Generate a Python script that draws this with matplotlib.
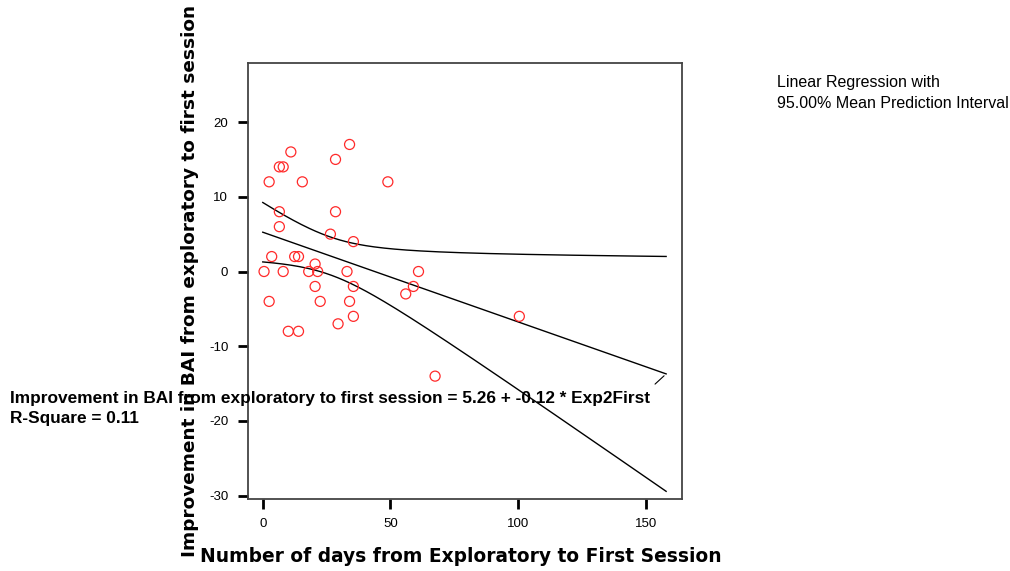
import numpy as np
import matplotlib
matplotlib.use("Agg")
import matplotlib.pyplot as plt
from matplotlib import font_manager
from matplotlib.ticker import FuncFormatter

# Days between exploratory and first session, and BAI improvement
days = [0.5, 2.5, 2.5, 3.5, 6.5, 8, 6.5, 6.5, 8, 10,
        11, 12.5, 14, 14, 15.5, 18, 20.5, 20.5, 21.5, 22.5,
        26.5, 28.5, 28.5, 29.5, 33, 34, 34, 35.5, 35.5, 35.5,
        49, 56, 59, 61, 67.5, 100.5]
improvement = [0, 12, -4, 2, 14, 14, 8, 6, 0, -8,
               16, 2, 2, -8, 12, 0, 1, -2, 0, -4,
               5, 15, 8, -7, 0, -4, 17, -2, 4, -6,
               12, -3, -2, 0, -14, -6]

intercept = 5.26
slope = -0.12
r_square = 0.11
fit_range = (0, 158)

x_ticks = [0, 50, 100, 150]
y_ticks = [-30, -20, -10, 0, 10, 20]

plt.rcParams["axes.unicode_minus"] = False

W, H = 1010, 571
fig = plt.figure(figsize=(W / 100, H / 100), dpi=100)
ax = fig.add_axes([247.7 / W, 1 - 498.7 / H, (681.7 - 247.7) / W, (498.7 - 63) / H])

def pick(names):
    have = {f.name for f in font_manager.fontManager.ttflist}
    return [n for n in names if n in have] or ["DejaVu Sans"]

plain = pick(["Liberation Sans"])

# Fitted line and 95% mean prediction interval
x = np.asarray(days, float)
y = np.asarray(improvement, float)
n = len(x)
resid = y - (intercept + slope * x)
s = np.sqrt(np.sum(resid ** 2) / (n - 2))
sxx = np.sum((x - x.mean()) ** 2)
t_crit = 2.032
xf = np.linspace(fit_range[0], fit_range[1], 200)
yf = intercept + slope * xf
hw = t_crit * s * np.sqrt(1 / n + (xf - x.mean()) ** 2 / sxx)

ax.plot(xf, yf, color="black", lw=1.0)
ax.plot(xf, yf + hw, color="black", lw=1.0)
ax.plot(xf, yf - hw, color="black", lw=1.0)

ax.scatter(days, improvement, s=52, facecolors="none", edgecolors="#ff2a2a", linewidths=0.9, zorder=3)

ax.set_xlim(-5.9, 164.1)
ax.set_ylim(-30.4, 27.9)
ax.set_xticks(x_ticks)
ax.set_yticks(y_ticks)
fmt = FuncFormatter(lambda v, p: f"{v:.0f}".replace("\u2212", "-"))
ax.xaxis.set_major_formatter(fmt)
ax.yaxis.set_major_formatter(fmt)
ax.tick_params(direction="out", length=7, width=2, color="black", labelsize=9.5, pad=7)
for lab in ax.get_xticklabels() + ax.get_yticklabels():
    lab.set_family(plain)
for sp in ax.spines.values():
    sp.set_color("#444444")
    sp.set_linewidth(1.3)

fig.text(190 / W, 1 - 281 / H, "Improvement in BAI from exploratory to first session",
         rotation=90, ha="center", va="center", fontsize=13.3, fontweight="bold",
         family="DejaVu Sans")
fig.text(461 / W, 1 - 557 / H, "Number of days from Exploratory to First Session",
         ha="center", va="center", fontsize=13.4, fontweight="bold", family="DejaVu Sans")

fig.text(10 / W, 1 - 398 / H,
         f"Improvement in BAI from exploratory to first session = {intercept:.2f} + {slope:.2f} * Exp2First",
         ha="left", va="center", fontsize=12.4, fontweight="bold", family=plain)
fig.text(10 / W, 1 - 418 / H, f"R-Square = {r_square:.2f}",
         ha="left", va="center", fontsize=12.4, fontweight="bold", family=plain)

# leader from the equation label to the end of the fitted line
ax.annotate("", xy=(fit_range[1], intercept + slope * fit_range[1]),
            xytext=(653 / W, 1 - 386 / H), textcoords="figure fraction",
            arrowprops=dict(arrowstyle="-", color="black", lw=0.8))

fig.text(777 / W, 1 - 83 / H, "Linear Regression with", ha="left", va="center",
         fontsize=11.5, family=plain)
fig.text(777 / W, 1 - 103 / H, "95.00% Mean Prediction Interval", ha="left", va="center",
         fontsize=11.5, family=plain)

fig.savefig("out.png", dpi=100)
